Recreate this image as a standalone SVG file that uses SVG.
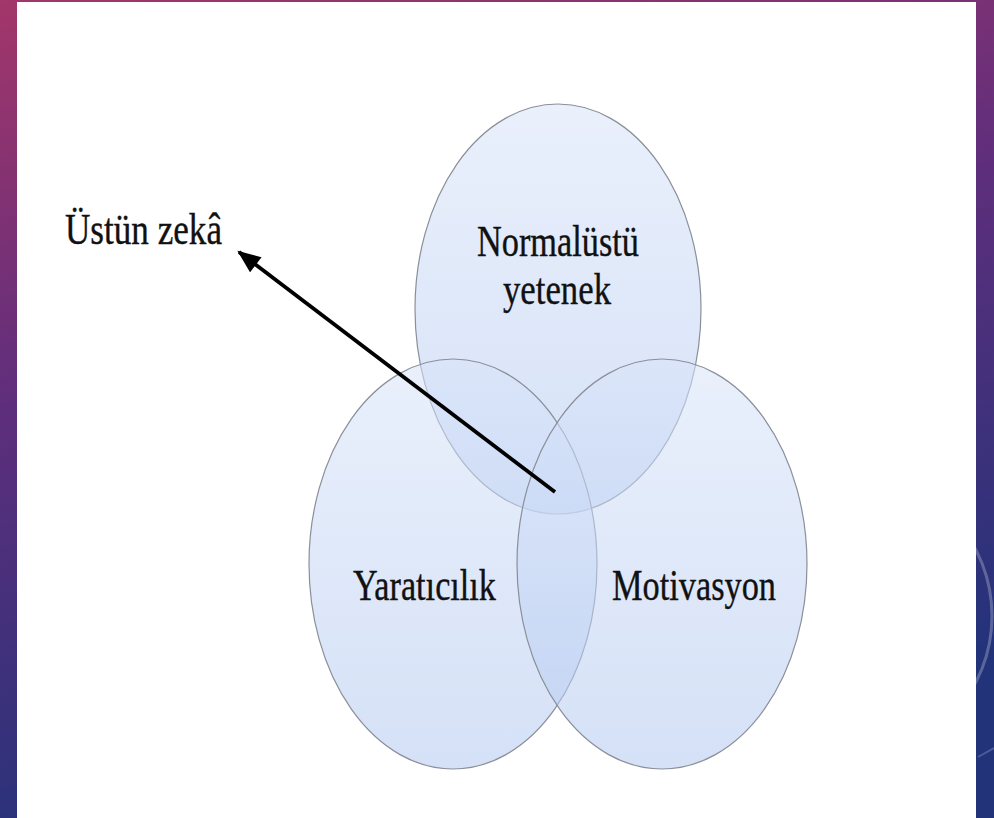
<svg xmlns="http://www.w3.org/2000/svg" width="994" height="818" viewBox="0 0 994 818">
  <defs>
    <linearGradient id="bg" x1="0" y1="0" x2="0.3" y2="1">
      <stop offset="0" stop-color="#a3366a"/>
      <stop offset="0.45" stop-color="#5f2e7c"/>
      <stop offset="1" stop-color="#23337a"/>
    </linearGradient>
    <linearGradient id="fillG" x1="0" y1="0" x2="0" y2="1">
      <stop offset="0" stop-color="#d8e4f9"/>
      <stop offset="1" stop-color="#b2c8f0"/>
    </linearGradient>
    <marker id="ah" viewBox="0 0 22 18" refX="20" refY="9" markerWidth="24" markerHeight="19" markerUnits="userSpaceOnUse" orient="auto">
      <path d="M0,0 L22,9 L0,18 z" fill="#000"/>
    </marker>
  </defs>
  <style>
    .ell { fill: url(#fillG); fill-opacity: 0.55; stroke: #8a8f99; stroke-width: 1.2; }
    .lbl { font-family: "Liberation Serif", "Times New Roman", serif; font-size: 45px; fill: #111; stroke: #111; stroke-width: 0.4; }
    .conn { stroke: #000; stroke-width: 3.8; fill: none; }
  </style>

  <!-- background -->
  <rect x="0" y="0" width="994" height="818" fill="url(#bg)"/>
  <circle cx="848" cy="616" r="144" fill="none" stroke="#ffffff" stroke-opacity="0.25" stroke-width="3"/>
  <line x1="978" y1="757" x2="994" y2="748" stroke="#ffffff" stroke-opacity="0.2" stroke-width="2"/>
  <rect x="17" y="2" width="959" height="816" fill="#ffffff"/>

  <g id="node-normalustu">
    <ellipse class="ell" cx="558" cy="309" rx="143" ry="205"/>
  </g>
  <g id="node-yaraticilik">
    <ellipse class="ell" cx="453" cy="564" rx="144" ry="205"/>
  </g>
  <g id="node-motivasyon">
    <ellipse class="ell" cx="662" cy="564" rx="145" ry="205"/>
  </g>

  <g id="labels">
    <text class="lbl" x="477" y="256" textLength="162" lengthAdjust="spacingAndGlyphs">Normalüstü</text>
    <text class="lbl" x="503" y="304" textLength="108" lengthAdjust="spacingAndGlyphs">yetenek</text>
    <text class="lbl" x="353" y="600" textLength="143" lengthAdjust="spacingAndGlyphs">Yaratıcılık</text>
    <text class="lbl" x="612" y="600" textLength="164" lengthAdjust="spacingAndGlyphs">Motivasyon</text>
  </g>

  <g id="node-ustun-zeka">
    <text class="lbl" x="65" y="244" textLength="157" lengthAdjust="spacingAndGlyphs">Üstün zekâ</text>
  </g>

  <g id="connectors">
    <line class="conn" x1="555" y1="492" x2="239" y2="252" marker-end="url(#ah)"/>
  </g>
</svg>
